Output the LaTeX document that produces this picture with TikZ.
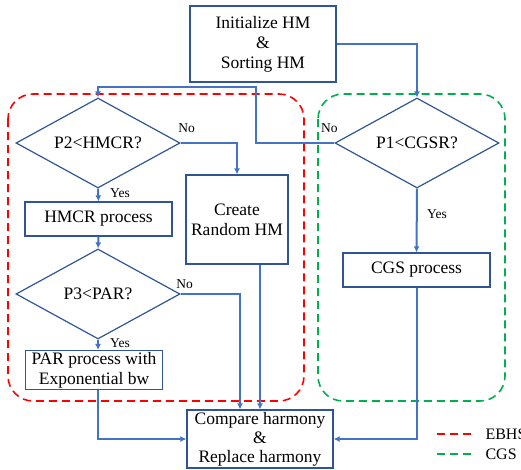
\documentclass[tikz,border=0pt]{standalone}
\usepackage{fontspec}
\setmainfont{Liberation Serif}
\usetikzlibrary{arrows.meta,positioning,calc,shapes.geometric}
\definecolor{flowblue}{RGB}{68,114,196}
\definecolor{boxblue}{RGB}{47,85,151}
\definecolor{ebhsred}{RGB}{255,0,0}
\definecolor{cgsgreen}{RGB}{0,176,80}
\tikzset{>={Latex[length=6pt,width=6pt]}, line/.style={line width=2pt, draw=flowblue},
box/.style={draw=boxblue, line width=1.2pt, align=center, inner sep=0pt, font=\fontsize{17.5}{20}\selectfont},
decision/.style={diamond, draw=boxblue, line width=1.2pt, aspect=1.8, inner sep=0pt, minimum width=164pt, minimum height=90pt, font=\fontsize{17.5}{20}\selectfont},
note/.style={font=\fontsize{13.5}{15}\selectfont},
region/.style={dash pattern=on 8pt off 5pt, line width=1.6pt, rounded corners=25pt}}

\begin{document}
\begin{tikzpicture}[x=1pt, y=-1pt]
\useasboundingbox (0,0) rectangle (521,469);

% dashed groups
\draw[region, ebhsred] (8,94) rectangle (304,401);
\draw[region, cgsgreen] (318,94) rectangle (505,401);

\node[box, minimum width=146pt, minimum height=76pt] (init) at (263,44) {Initialize HM\\\&\\Sorting HM};
\node[decision] (ptwo) at (98,143) {P2<HMCR?};
\node[decision] (pone) at (417,143) {P1<CGSR?};
\node[box, minimum width=147pt, minimum height=34pt] (hmcr) at (98.5,219) {HMCR process};
\node[box, minimum width=102pt, minimum height=89pt] (random) at (237,219.5) {Create\\Random HM};
\node[decision] (pthree) at (98,294) {P3<PAR?};
\node[box, minimum width=137pt, minimum height=39pt] (par) at (94,370) {PAR process with\\Exponential bw};
\node[box, minimum width=147pt, minimum height=34pt] (cgs) at (416.5,270) {CGS process};
\node[box, minimum width=146pt, minimum height=58pt, font=\fontsize{17.5}{19}\selectfont] (compare) at (260,439) {Compare harmony\\\&\\Replace harmony};

\draw[->,line] (init.east) -| (pone.north);
\draw[->,line] (pone.west) -- ++(-78,0) |- ($(ptwo.north)+(0,-10)$) -- (ptwo.north);
\draw[->,line] (ptwo.east) -| (random.north);
\draw[->,line] (ptwo.south) -- (hmcr.north);
\draw[->,line] (hmcr.south) -- (pthree.north);
\draw[->,line] (pthree.south) -- (pthree.south |- par.north);
\draw[->,line] (pthree.east) -| ($(compare.north)+(-20,0)$);
\draw[->,line] (random.south -| compare.north) -- (compare.north);
\draw[->,line] (par.south -| pthree.south) |- (compare.west);
\draw[->,line] (pone.south) -- (cgs.north);
\draw[->,line] (cgs.south) |- (compare.east);

% branch labels
\node[note] (ptwono) at ($(ptwo.east)+(6,-15)$) {No};
\node[note] (ptwoyes) at ($(ptwo.south)+(22,5)$) {Yes};
\node[note] (poneno) at ($(pone.west)+(-5,-15)$) {No};
\node[note] (poneyes) at ($(pone.south)+(20,26)$) {Yes};
\node[note] (pthreeno) at ($(pthree.east)+(4,-10)$) {No};
\node[note] (pthreeyes) at ($(pthree.south)+(22,4)$) {Yes};

% legend
\node[anchor=west, font=\fontsize{16}{18}\selectfont] (ebhskey) at (482,434) {EBHS};
\node[anchor=west, font=\fontsize{16}{18}\selectfont] (cgskey) at (482,454) {CGS};
\draw[region, ebhsred] ($(ebhskey.west)+(-11,0)$) -- ++(-38,0);
\draw[region, cgsgreen] ($(cgskey.west)+(-11,0)$) -- ++(-38,0);
\end{tikzpicture}
\end{document}
